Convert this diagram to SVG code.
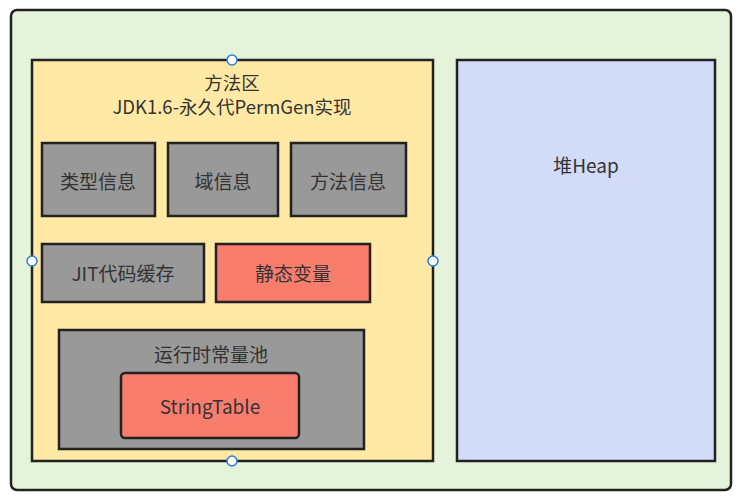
<svg xmlns="http://www.w3.org/2000/svg" width="743" height="501" viewBox="0 0 743 501">
<style>
text{font-family:"Noto Sans CJK SC","Noto Sans",sans-serif;fill:#333;font-size:19px;text-anchor:middle;dominant-baseline:central}
.t{font-size:18.5px}
.b{stroke:#222;stroke-width:2.5}
.g{fill:#999}
.r{fill:#f87d6d}
.h{fill:#fff;stroke:#2a7fd4;stroke-width:1.5}
</style>
<rect width="743" height="501" fill="#fff"/>
<g id="outer"><rect class="b" x="11" y="10" width="720" height="480" rx="6" fill="#e4f3da"/></g>
<g id="method-area"><rect class="b" x="32" y="60" width="401" height="401" fill="#ffe9a5"/>
<text class="t" x="232" y="82">方法区</text><text class="t" x="232" y="106">JDK1.6-永久代PermGen实现</text></g>
<g id="heap"><rect class="b" x="457" y="60" width="258" height="401" fill="#d2dcf8"/><text x="586" y="164">堆Heap</text></g>
<g id="type-info"><rect class="b g" x="42" y="143" width="113" height="73"/><text x="98" y="180">类型信息</text></g>
<g id="field-info"><rect class="b g" x="168" y="143" width="110" height="73"/><text x="223" y="180">域信息</text></g>
<g id="method-info"><rect class="b g" x="291" y="143" width="115" height="73"/><text x="348" y="180">方法信息</text></g>
<g id="jit"><rect class="b g" x="42" y="244" width="162" height="58"/><text x="123" y="272">JIT代码缓存</text></g>
<g id="static"><rect class="b r" x="216" y="244" width="154" height="58"/><text x="293" y="272">静态变量</text></g>
<g id="runtime-pool"><rect class="b g" x="59" y="330" width="305" height="119"/><text x="211" y="353">运行时常量池</text></g>
<g id="string-table"><rect class="b r" x="121" y="373" width="178" height="65" rx="4"/><text x="210" y="405">StringTable</text></g>
<g id="connectors"></g>
<g id="handles">
<circle class="h" cx="232" cy="60" r="5"/><circle class="h" cx="32" cy="261" r="5"/><circle class="h" cx="433" cy="261" r="5"/><circle class="h" cx="232" cy="461" r="5"/>
</g>
</svg>
